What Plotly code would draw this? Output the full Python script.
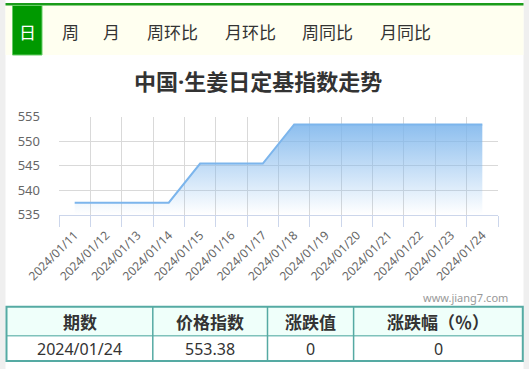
import plotly.graph_objects as go

W, H = 529, 369

dates = ["2024/01/11", "2024/01/12", "2024/01/13", "2024/01/14", "2024/01/15",
         "2024/01/16", "2024/01/17", "2024/01/18", "2024/01/19", "2024/01/20",
         "2024/01/21", "2024/01/22", "2024/01/23", "2024/01/24"]
values = [537.4, 537.4, 537.4, 537.4, 545.4, 545.4, 545.4,
          553.38, 553.38, 553.38, 553.38, 553.38, 553.38, 553.38]
y_ticks = [535, 540, 545, 550, 555]
tabs = ["日", "周", "月", "周环比", "月环比", "周同比", "月同比"]
tab_x = [27, 70, 111, 172, 250, 327, 405]
title = "中国·生姜日定基指数走势"
table_header = ["期数", "价格指数", "涨跌值", "涨跌幅（％）"]
table_col_edges = [6.5, 152.8, 267.5, 353.6, 522.8]

def px(x):
    return x / W

def py(y):
    return 1 - y / H

idx = list(range(len(dates)))
fig = go.Figure()
fig.add_trace(go.Scatter(
    x=idx, y=values, mode="lines",
    line=dict(color="#7cb5ec", width=2),
    fill="tozeroy",
    fillgradient=dict(type="vertical", start=535, stop=555,
                      colorscale=[[0, "rgba(124,181,236,0.0)"],
                                  [1, "rgba(124,181,236,0.95)"]]),
    hoverinfo="skip", showlegend=False,
))

change = values[-1] - values[-2]
pct = change / values[-2] * 100
table_row = [dates[-1], "%.2f" % values[-1], "%g" % round(change, 2), "%g" % round(pct, 2)]

teal = "#55aaa3"
top_y, mid_y, bot_y = 306.7, 335.7, 361
shapes = [
    dict(type="rect", xref="paper", yref="paper", x0=0, x1=px(5.5), y0=0, y1=1,
         fillcolor="#efefef", line=dict(width=0), layer="below"),
    dict(type="rect", xref="paper", yref="paper", x0=px(523.5), x1=1, y0=0, y1=1,
         fillcolor="#efefef", line=dict(width=0), layer="below"),
    dict(type="rect", xref="paper", yref="paper", x0=px(5.5), x1=px(523.5), y0=py(55), y1=py(5),
         fillcolor="#fffff0", line=dict(width=0), layer="below"),
    dict(type="rect", xref="paper", yref="paper", x0=px(5.5), x1=px(523.5), y0=py(5.5), y1=py(3),
         fillcolor="#1a9c1a", line=dict(width=0), layer="below"),
    dict(type="rect", xref="paper", yref="paper", x0=px(12.5), x1=px(42), y0=py(55), y1=py(5.5),
         fillcolor="#009900", line=dict(color="#66cc66", width=1), layer="below"),
    # table
    dict(type="rect", xref="paper", yref="paper",
         x0=px(table_col_edges[0]), x1=px(table_col_edges[-1]), y0=py(mid_y), y1=py(top_y),
         fillcolor="#effffa", line=dict(width=0)),
    dict(type="line", xref="paper", yref="paper",
         x0=px(table_col_edges[0]), x1=px(table_col_edges[-1]), y0=py(mid_y), y1=py(mid_y),
         line=dict(color="#7fc2bb", width=1.5)),
]
for xe in table_col_edges[1:-1]:
    shapes.append(dict(type="line", xref="paper", yref="paper",
                       x0=px(xe), x1=px(xe), y0=py(bot_y), y1=py(top_y),
                       line=dict(color=teal, width=1.5)))
shapes.append(dict(type="rect", xref="paper", yref="paper",
                   x0=px(table_col_edges[0]), x1=px(table_col_edges[-1]), y0=py(bot_y), y1=py(top_y),
                   line=dict(color=teal, width=2)))

annotations = []
for t, x in zip(tabs, tab_x):
    annotations.append(dict(text=t, x=px(x), y=py(31), xref="paper", yref="paper",
                            xanchor="center", yanchor="middle", showarrow=False,
                            font=dict(size=17, color="white" if t == "日" else "#333",
                                      family="Noto Sans CJK SC")))
annotations.append(dict(text="<b>%s</b>" % title, x=px(258), y=py(81), xref="paper", yref="paper",
                        xanchor="center", yanchor="middle", showarrow=False,
                        font=dict(size=22, color="#333", family="Noto Sans, Noto Sans CJK SC")))
annotations.append(dict(text="www.jiang7.com", x=px(510), y=py(297), xref="paper", yref="paper",
                        xanchor="right", yanchor="middle", showarrow=False,
                        font=dict(size=11, color="#999", family="Noto Sans")))
for i in range(len(table_header)):
    cx = (table_col_edges[i] + table_col_edges[i + 1]) / 2
    annotations.append(dict(text="<b>%s</b>" % table_header[i], x=px(cx), y=py((top_y + mid_y) / 2 + 0.5),
                            xref="paper", yref="paper", xanchor="center", yanchor="middle",
                            showarrow=False,
                            font=dict(size=17, color="#333", family="Noto Sans CJK SC")))
    annotations.append(dict(text=table_row[i], x=px(cx), y=py((mid_y + bot_y) / 2 + 0.5),
                            xref="paper", yref="paper", xanchor="center", yanchor="middle",
                            showarrow=False,
                            font=dict(size=16, color="#333", family="Noto Sans")))

fig.update_layout(
    width=W, height=H,
    margin=dict(l=0, r=0, t=0, b=0, autoexpand=False),
    paper_bgcolor="white", plot_bgcolor="white",
    shapes=shapes, annotations=annotations,
    xaxis=dict(
        domain=[px(59), px(498)], range=[-0.5, len(dates) - 0.5],
        automargin=False,
        tickmode="array", tickvals=idx, ticktext=dates, tickangle=-45,
        ticks="outside", ticklen=8, tickcolor="rgba(0,0,0,0)",
        showgrid=False, zeroline=False,
        showline=True, linecolor="#ccd6eb", linewidth=1,
        tickfont=dict(size=12, color="#666", family="Noto Sans"),
        minor=dict(tickmode="array", tickvals=[i - 0.5 for i in range(len(dates) + 1)],
                   ticks="outside", ticklen=11, tickcolor="#ccd6eb", tickwidth=1,
                   showgrid=True, gridcolor="#d9d9d9", gridwidth=1),
        fixedrange=True,
    ),
    yaxis=dict(
        domain=[py(214.5), py(116.5)], range=[535, 555],
        automargin=False,
        tickmode="array", tickvals=y_ticks,
        showgrid=True, gridcolor="#d9d9d9", gridwidth=1, zeroline=False,
        ticks="", ticklabelstandoff=18,
        tickfont=dict(size=13, color="#666", family="Noto Sans"),
        fixedrange=True,
    ),
)

fig.write_html("out.html", config={"displayModeBar": False})
